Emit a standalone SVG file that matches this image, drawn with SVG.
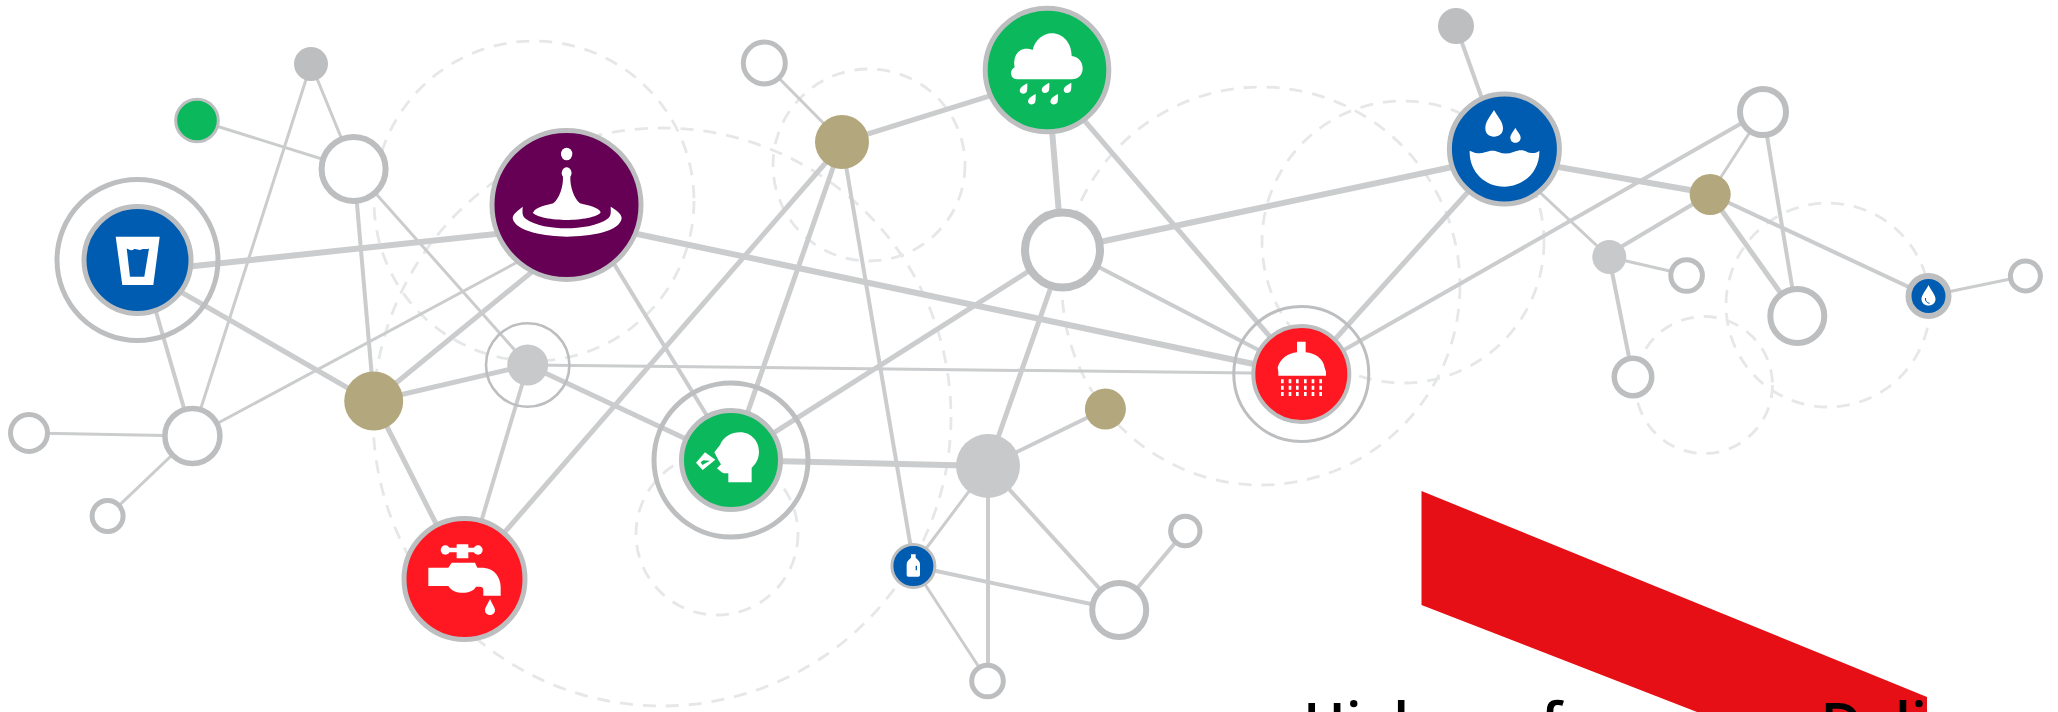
<svg xmlns="http://www.w3.org/2000/svg" xmlns:xlink="http://www.w3.org/1999/xlink" width="2058" height="712" viewBox="0 0 2058 712">
<style>
.dash{fill:none;stroke:#e6e7e8;stroke-width:2.8;stroke-dasharray:13 10}
.e{stroke:#cbcccd;fill:none}
.w3{stroke-width:3}.w4{stroke-width:4}.w5{stroke-width:5}.w6{stroke-width:6}
.ring{fill:none;stroke:#bcbec0}
.core{stroke:#bcbec0}
.open{fill:#fff;stroke:#bcbec0}
.ic{fill:#fff}
.khaki{fill:#b3a77d}
.grey{fill:#c8c9cb}
.dgrey{fill:#bcbec0}
text{font-family:"Open Sans","Noto Sans","Liberation Sans",sans-serif;font-size:57px;font-weight:600;fill:#000}
</style>
<defs>
<path id="rd" d="M12 -18C12 -18 13 -3 11 5C9 12 0 15 -6 12C-12 9 -12 1 -8 -4C-5 -9 5 -14 12 -18Z" fill="#fff"/>
</defs>
<rect width="2058" height="712" fill="#fff"/>
<g id="guides">
<circle class="dash" cx="534" cy="201" r="160"/>
<circle class="dash" cx="662" cy="417" r="289"/>
<circle class="dash" cx="869" cy="165" r="96"/>
<circle class="dash" cx="1261" cy="286" r="199"/>
<circle class="dash" cx="1403" cy="242" r="141"/>
<circle class="dash" cx="717" cy="534" r="81"/>
<circle class="dash" cx="1828" cy="305" r="102"/>
<circle class="dash" cx="1704" cy="385" r="68.5"/>
</g>
<polygon id="banner" points="1421.5,491 1927,697 1927,712 1697,712 1421.5,605" fill="#e50f15"/>
<g id="connectors">
<line class="e w3" x1="197" y1="120" x2="354" y2="169"/>
<line class="e w3" x1="311" y1="64" x2="354" y2="169"/>
<line class="e w3" x1="311" y1="64" x2="192" y2="436"/>
<line class="e w4" x1="354" y1="169" x2="374" y2="401"/>
<line class="e w3" x1="354" y1="169" x2="528" y2="365"/>
<line class="e w6" x1="137.500" y1="272" x2="566" y2="226.500"/>
<line class="e w5" x1="137.500" y1="267" x2="374" y2="403"/>
<line class="e w4" x1="141" y1="260" x2="192" y2="436"/>
<line class="e w3" x1="192" y1="436" x2="29" y2="433"/>
<line class="e w3" x1="192" y1="436" x2="108" y2="516"/>
<line class="e w3" x1="192" y1="437" x2="566" y2="236"/>
<line class="e w5" x1="374" y1="401" x2="566" y2="244"/>
<line class="e w5" x1="374" y1="401" x2="528" y2="365"/>
<line class="e w5" x1="374" y1="401" x2="464" y2="579"/>
<line class="e w4" x1="528" y1="365" x2="464" y2="579"/>
<line class="e w5" x1="528" y1="365" x2="731" y2="460"/>
<line class="e w3" x1="528" y1="365" x2="1301" y2="373.500"/>
<line class="e w4" x1="578" y1="205" x2="731" y2="455"/>
<line class="e w6" x1="566" y1="219" x2="1301" y2="374"/>
<line class="e w5" x1="464" y1="579" x2="842" y2="144"/>
<line class="e w5" x1="731" y1="460" x2="842" y2="142"/>
<line class="e w3" x1="764" y1="63" x2="842" y2="142"/>
<line class="e w5" x1="842" y1="142" x2="1047" y2="78"/>
<line class="e w4" x1="842" y1="142" x2="914" y2="566"/>
<line class="e w6" x1="1047" y1="70" x2="1062" y2="250"/>
<line class="e w5" x1="1047" y1="77" x2="1301" y2="373"/>
<line class="e w5" x1="1062" y1="250" x2="731" y2="460"/>
<line class="e w5" x1="1064" y1="250" x2="988" y2="466"/>
<line class="e w4" x1="1062" y1="248" x2="1301" y2="372"/>
<line class="e w6" x1="1062" y1="250" x2="1504" y2="156"/>
<line class="e w6" x1="731" y1="460" x2="988" y2="466"/>
<line class="e w4" x1="988" y1="466" x2="1105" y2="409"/>
<line class="e w3" x1="988" y1="466" x2="913" y2="566"/>
<line class="e w4" x1="988" y1="466" x2="988" y2="681"/>
<line class="e w4" x1="988" y1="466" x2="1119" y2="610"/>
<line class="e w4" x1="913" y1="566" x2="1119" y2="610"/>
<line class="e w3" x1="913" y1="566" x2="988" y2="681"/>
<line class="e w4" x1="1119" y1="610" x2="1185" y2="531"/>
<line class="e w5" x1="1301" y1="377" x2="1504" y2="152"/>
<line class="e w4" x1="1301" y1="374.500" x2="1763" y2="111"/>
<line class="e w4" x1="1456" y1="26" x2="1500" y2="149"/>
<line class="e w6" x1="1504" y1="157.500" x2="1710" y2="193.500"/>
<line class="e w3" x1="1500" y1="155" x2="1609" y2="257"/>
<line class="e w4" x1="1609" y1="254" x2="1710" y2="194"/>
<line class="e w3" x1="1609" y1="257" x2="1687" y2="275"/>
<line class="e w4" x1="1609" y1="257" x2="1633" y2="377"/>
<line class="e w3" x1="1710" y1="194" x2="1763" y2="112"/>
<line class="e w5" x1="1710" y1="194" x2="1797" y2="316"/>
<line class="e w4" x1="1710" y1="194" x2="1928" y2="296"/>
<line class="e w4" x1="1763" y1="112" x2="1797" y2="316"/>
<line class="e w3" x1="1928" y1="296" x2="2025" y2="276"/>
</g>
<g id="n-glass">
<circle class="ring" cx="137.5" cy="260" r="80.5" stroke-width="5"/>
<circle class="core" cx="137.5" cy="260" r="53.5" stroke-width="5" fill="#005cb0"/>
<path class="ic" fill-rule="evenodd" d="M115.7 236.7H159.7L153.3 285H122.3ZM126.7 248.5L130 276.7H144.3L149 248.5C146 250 144 248 141.500 249.500C139 251 136 248 133.500 249.500C131 251 129 249.500 126.700 248.500Z"/>
</g>
<g id="n-purple">
<circle class="core" cx="566.500" cy="205" r="74.500" stroke-width="5" fill="#660055"/>
<g class="ic" transform="translate(480 120) scale(.3333)">
<ellipse cx="260" cy="102" rx="17" ry="19"/>
<path d="M160 277C165 262 200 255 220 250C238 235 250 200 249 170C240 160 248 142 260 142C272 142 280 160 271 170C270 200 282 235 300 250C320 255 358 262 362 277C355 292 300 300 260 300C220 300 165 292 158 277Z"/>
<path d="M128 260C120 268 98 280 98 295C105 335 200 350 260 350C330 350 420 335 425 295C425 280 405 268 392 260C392 272 395 285 385 295C355 318 300 325 260 325C215 325 165 318 135 295C125 285 128 272 128 260Z"/>
</g>
</g>
<g id="n-rain">
<circle class="core" cx="1047" cy="70" r="61.800" stroke-width="5" fill="#0cb85c"/>
<g class="ic" transform="translate(980 0) scale(.3333)">
<path d="M112 238C98 238 93 228 93 220C93 212 98 205 104 202C98 175 110 146 140 146C148 146 154 148 158 150C165 120 190 100 215 100C250 100 275 130 275 168C295 170 308 185 308 205C308 225 295 238 275 238Z"/>
<use xlink:href="#rd" x="130" y="268"/><use xlink:href="#rd" x="196" y="266"/><use xlink:href="#rd" x="262" y="266"/><use xlink:href="#rd" x="155" y="300"/><use xlink:href="#rd" x="222" y="300"/>
</g>
</g>
<g id="n-tap">
<circle class="core" cx="464.500" cy="579" r="60.500" stroke-width="5" fill="#ff1822"/>
<g class="ic" transform="translate(400 515) scale(.3333)">
<circle cx="136" cy="105" r="14"/><circle cx="234" cy="105" r="14"/>
<path d="M136 98H170V88H205V98H234V112H205V130H170V112H136Z"/>
<path d="M85 158H145L155 143H225L232 158H250C285 160 302 190 302 215V242H250V225C250 218 245 215 240 215H228C215 240 160 240 145 213H85Z"/>
<path d="M270 252C262 270 255 278 255 285C255 305 285 305 285 285C285 278 278 270 270 252Z"/>
</g>
</g>
<g id="n-shower">
<circle class="ring" cx="1301.300" cy="374" r="67.500" stroke-width="3"/>
<circle class="core" cx="1301.300" cy="374" r="48" stroke-width="4" fill="#ff1822"/>
<g class="ic" transform="translate(1250 320) scale(.3333)">
<path d="M141 65H167V97C195 100 220 115 224 143L228 155V167H85V155L83 143C90 115 115 100 141 97Z"/>
<g fill="none" stroke="#fff" stroke-width="8" stroke-dasharray="12 7">
<line x1="97" y1="178" x2="97" y2="232"/><line x1="120" y1="178" x2="120" y2="232"/><line x1="142" y1="178" x2="142" y2="232"/><line x1="166" y1="178" x2="166" y2="232"/><line x1="189" y1="178" x2="189" y2="232"/><line x1="212" y1="178" x2="212" y2="232"/>
</g>
</g>
</g>
<g id="n-water">
<circle class="core" cx="1504.400" cy="149" r="55" stroke-width="5" fill="#005cb0"/>
<g class="ic" transform="translate(1445 90) scale(.3333)">
<path d="M147 60C135 80 121 95 121 115C121 132 133 140 147 140C161 140 174 132 174 115C174 95 158 80 147 60Z"/>
<path d="M211 113C205 125 196 133 196 143C196 152 203 158 211 158C219 158 227 152 227 143C227 133 217 125 211 113Z"/>
<path d="M74 182C90 190 105 192 120 187C135 182 145 180 160 186C175 192 190 192 205 186C225 178 235 180 245 185C260 192 275 190 283 182C285 240 240 290 178 290C120 290 72 245 74 182Z"/>
</g>
</g>
<g id="n-face">
<circle class="ring" cx="731" cy="460" r="77" stroke-width="5"/>
<circle class="core" cx="731" cy="460" r="49.500" stroke-width="5" fill="#0cb85c"/>
<g class="ic" transform="translate(670 405) scale(.3333)">
<path d="M133 142L150 120C160 95 185 82 210 82C245 82 267 110 267 140C267 165 255 178 245 188V232H175V205H165C155 205 150 197 141 190L153 178L145 165Z"/>
<path fill-rule="evenodd" d="M78 173L105 142L136 164L98 195ZM92 172L97 180L120 167L100 166Z"/>
</g>
</g>
<g id="n-bottle">
<circle class="core" cx="913.400" cy="566" r="21.500" stroke-width="3" fill="#005cb0"/>
<path class="ic" fill-rule="evenodd" transform="translate(885 535) scale(.3333)" d="M78 58H92V68C100 75 105 80 105 88V120Q105 125 100 125H70Q65 125 65 120V88C65 80 70 75 78 68ZM92 92V106H96V92Z"/>
</g>
<g id="n-drop">
<circle class="core" cx="1928.500" cy="296" r="20" stroke-width="6" fill="#005cb0"/>
<path class="ic" transform="translate(1928.500 296)" d="M0 -11C-3 -5 -7 -1 -7 3C-7 7 -4 9.500 0 9.500C4 9.500 7 7 7 3C7 -1 3 -5 0 -11Z"/>
<path d="M-3 2C-3.500 5 -1.500 7 1 7.300" transform="translate(1928.500 296)" fill="none" stroke="#005cb0" stroke-width="1"/>
</g>
<g id="n-green-small"><circle class="core" cx="197" cy="120.500" r="21.300" stroke-width="3" fill="#0cb85c"/></g>
<g id="n-grey-a"><circle class="dgrey" cx="311" cy="64" r="17"/></g>
<g id="n-grey-b"><circle class="dgrey" cx="1456" cy="26" r="18"/></g>
<g id="n-grey-ring"><circle class="ring" cx="527.700" cy="365" r="41.700" stroke-width="2.600"/><circle class="grey" cx="527.700" cy="365" r="20.500"/></g>
<g id="n-grey-c"><circle class="grey" cx="988" cy="466" r="32"/></g>
<g id="n-grey-d"><circle class="grey" cx="1609.300" cy="257" r="17"/></g>
<g id="n-khaki-a"><circle class="khaki" cx="373.700" cy="401" r="29.500"/></g>
<g id="n-khaki-b"><circle class="khaki" cx="842" cy="142" r="27"/></g>
<g id="n-khaki-c"><circle class="khaki" cx="1105.400" cy="409" r="20.500"/></g>
<g id="n-khaki-d"><circle class="khaki" cx="1710.200" cy="194.500" r="20.500"/></g>
<g id="n-open-a"><circle class="open" cx="353.600" cy="169" r="32" stroke-width="6"/></g>
<g id="n-open-b"><circle class="open" cx="192.400" cy="436" r="27.500" stroke-width="5.500"/></g>
<g id="n-open-c"><circle class="open" cx="29" cy="433" r="18.500" stroke-width="5"/></g>
<g id="n-open-d"><circle class="open" cx="107.600" cy="516" r="15.500" stroke-width="5"/></g>
<g id="n-open-e"><circle class="open" cx="764.300" cy="63" r="21" stroke-width="5"/></g>
<g id="n-open-f"><circle class="open" cx="1062.500" cy="250" r="37.500" stroke-width="8"/></g>
<g id="n-open-g"><circle class="open" cx="1185.300" cy="531" r="14.700" stroke-width="5"/></g>
<g id="n-open-h"><circle class="open" cx="1119.200" cy="610" r="27" stroke-width="6"/></g>
<g id="n-open-i"><circle class="open" cx="987.500" cy="681" r="15.800" stroke-width="5"/></g>
<g id="n-open-j"><circle class="open" cx="1763" cy="112" r="23" stroke-width="6"/></g>
<g id="n-open-k"><circle class="open" cx="1686.600" cy="275.500" r="15.800" stroke-width="5"/></g>
<g id="n-open-l"><circle class="open" cx="1633" cy="377" r="18.700" stroke-width="5.500"/></g>
<g id="n-open-m"><circle class="open" cx="1797.300" cy="316" r="27" stroke-width="6"/></g>
<g id="n-open-n"><circle class="open" cx="2025.400" cy="276" r="15" stroke-width="5"/></g>
<text x="1303" y="744">High-performance Delivered</text>
</svg>
